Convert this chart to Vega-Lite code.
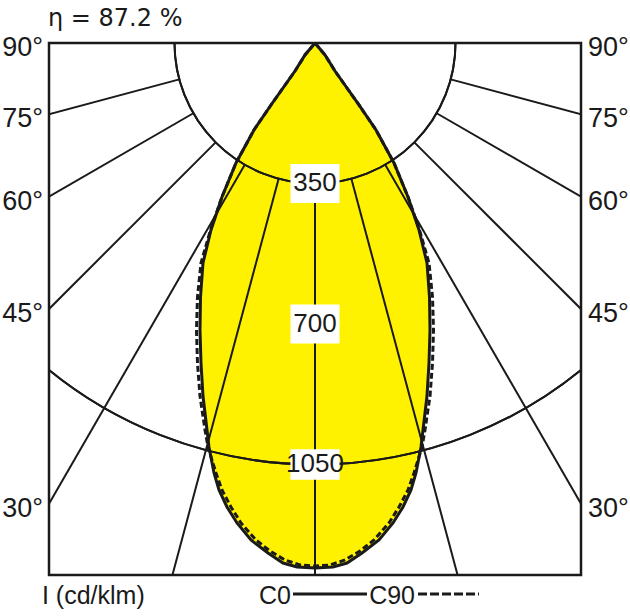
{
  "$schema": "https://vega.github.io/schema/vega-lite/v6.json",
  "width": 532,
  "height": 532,
  "autosize": "none",
  "padding": {"left": 49, "top": 43, "right": 49, "bottom": 41},
  "background": "white",
  "config": {"view": {"stroke": "#1a1a1a", "strokeWidth": 2.5}},
  "datasets": {
    "c0": [
      {"i": 0, "x": 0, "y": 0},
      {"i": 1, "x": 24.9, "y": -29.9},
      {"i": 2, "x": 49.8, "y": -69.8},
      {"i": 3, "x": 79.7, "y": -112.1},
      {"i": 4, "x": 109.6, "y": -154.4},
      {"i": 5, "x": 152.0, "y": -216.7},
      {"i": 6, "x": 196.8, "y": -298.9},
      {"i": 7, "x": 231.7, "y": -383.6},
      {"i": 8, "x": 259.1, "y": -465.8},
      {"i": 9, "x": 279.0, "y": -548.0},
      {"i": 10, "x": 285.2, "y": -632.7},
      {"i": 11, "x": 286.5, "y": -714.9},
      {"i": 12, "x": 284.0, "y": -797.2},
      {"i": 13, "x": 279.0, "y": -879.4},
      {"i": 14, "x": 274.0, "y": -921.7},
      {"i": 15, "x": 264.1, "y": -1006.4},
      {"i": 16, "x": 251.6, "y": -1071.2},
      {"i": 17, "x": 239.1, "y": -1113.5},
      {"i": 18, "x": 219.2, "y": -1155.9},
      {"i": 19, "x": 194.3, "y": -1195.7},
      {"i": 20, "x": 159.4, "y": -1238.1},
      {"i": 21, "x": 117.1, "y": -1270.5},
      {"i": 22, "x": 79.7, "y": -1295.4},
      {"i": 23, "x": 44.8, "y": -1305.3},
      {"i": 24, "x": 0, "y": -1307.8},
      {"i": 25, "x": -44.8, "y": -1305.3},
      {"i": 26, "x": -79.7, "y": -1295.4},
      {"i": 27, "x": -117.1, "y": -1270.5},
      {"i": 28, "x": -159.4, "y": -1238.1},
      {"i": 29, "x": -194.3, "y": -1195.7},
      {"i": 30, "x": -219.2, "y": -1155.9},
      {"i": 31, "x": -239.1, "y": -1113.5},
      {"i": 32, "x": -251.6, "y": -1071.2},
      {"i": 33, "x": -264.1, "y": -1006.4},
      {"i": 34, "x": -274.0, "y": -921.7},
      {"i": 35, "x": -279.0, "y": -879.4},
      {"i": 36, "x": -284.0, "y": -797.2},
      {"i": 37, "x": -286.5, "y": -714.9},
      {"i": 38, "x": -285.2, "y": -632.7},
      {"i": 39, "x": -279.0, "y": -548.0},
      {"i": 40, "x": -259.1, "y": -465.8},
      {"i": 41, "x": -231.7, "y": -383.6},
      {"i": 42, "x": -196.8, "y": -298.9},
      {"i": 43, "x": -152.0, "y": -216.7},
      {"i": 44, "x": -109.6, "y": -154.4},
      {"i": 45, "x": -79.7, "y": -112.1},
      {"i": 46, "x": -49.8, "y": -69.8},
      {"i": 47, "x": -24.9, "y": -29.9},
      {"i": 48, "x": 0, "y": 0}
    ],
    "c90": [
      {"i": 0, "x": 0, "y": 0},
      {"i": 1, "x": 24.9, "y": -29.9},
      {"i": 2, "x": 49.8, "y": -69.8},
      {"i": 3, "x": 79.7, "y": -112.1},
      {"i": 4, "x": 109.6, "y": -154.4},
      {"i": 5, "x": 152.0, "y": -216.7},
      {"i": 6, "x": 196.8, "y": -298.9},
      {"i": 7, "x": 231.7, "y": -383.6},
      {"i": 8, "x": 260.3, "y": -465.8},
      {"i": 9, "x": 284.0, "y": -548.0},
      {"i": 10, "x": 292.7, "y": -632.7},
      {"i": 11, "x": 295.2, "y": -714.9},
      {"i": 12, "x": 292.7, "y": -797.2},
      {"i": 13, "x": 286.5, "y": -879.4},
      {"i": 14, "x": 274.0, "y": -964.1},
      {"i": 15, "x": 266.5, "y": -1006.4},
      {"i": 16, "x": 246.6, "y": -1071.2},
      {"i": 17, "x": 231.7, "y": -1113.5},
      {"i": 18, "x": 209.3, "y": -1155.9},
      {"i": 19, "x": 184.3, "y": -1195.7},
      {"i": 20, "x": 147.0, "y": -1238.1},
      {"i": 21, "x": 112.1, "y": -1265.5},
      {"i": 22, "x": 74.7, "y": -1287.9},
      {"i": 23, "x": 37.4, "y": -1300.4},
      {"i": 24, "x": 0, "y": -1302.9},
      {"i": 25, "x": -37.4, "y": -1300.4},
      {"i": 26, "x": -74.7, "y": -1287.9},
      {"i": 27, "x": -112.1, "y": -1265.5},
      {"i": 28, "x": -147.0, "y": -1238.1},
      {"i": 29, "x": -184.3, "y": -1195.7},
      {"i": 30, "x": -209.3, "y": -1155.9},
      {"i": 31, "x": -231.7, "y": -1113.5},
      {"i": 32, "x": -246.6, "y": -1071.2},
      {"i": 33, "x": -266.5, "y": -1006.4},
      {"i": 34, "x": -274.0, "y": -964.1},
      {"i": 35, "x": -286.5, "y": -879.4},
      {"i": 36, "x": -292.7, "y": -797.2},
      {"i": 37, "x": -295.2, "y": -714.9},
      {"i": 38, "x": -292.7, "y": -632.7},
      {"i": 39, "x": -284.0, "y": -548.0},
      {"i": 40, "x": -260.3, "y": -465.8},
      {"i": 41, "x": -231.7, "y": -383.6},
      {"i": 42, "x": -196.8, "y": -298.9},
      {"i": 43, "x": -152.0, "y": -216.7},
      {"i": 44, "x": -109.6, "y": -154.4},
      {"i": 45, "x": -79.7, "y": -112.1},
      {"i": 46, "x": -49.8, "y": -69.8},
      {"i": 47, "x": -24.9, "y": -29.9},
      {"i": 48, "x": 0, "y": 0}
    ],
    "rings": [{"r": 350}, {"r": 700}, {"r": 1050}, {"r": 1400}],
    "spokes": [
      {"x": 0, "y": -350, "x2": 0, "y2": -2000},
      {"x": 90.59, "y": -338.07, "x2": 517.64, "y2": -1931.85},
      {"x": -90.59, "y": -338.07, "x2": -517.64, "y2": -1931.85},
      {"x": 175, "y": -303.11, "x2": 1000, "y2": -1732.05},
      {"x": -175, "y": -303.11, "x2": -1000, "y2": -1732.05},
      {"x": 247.49, "y": -247.49, "x2": 1414.21, "y2": -1414.21},
      {"x": -247.49, "y": -247.49, "x2": -1414.21, "y2": -1414.21},
      {"x": 303.11, "y": -175, "x2": 1732.05, "y2": -1000},
      {"x": -303.11, "y": -175, "x2": -1732.05, "y2": -1000},
      {"x": 338.07, "y": -90.59, "x2": 1931.85, "y2": -517.64},
      {"x": -338.07, "y": -90.59, "x2": -1931.85, "y2": -517.64}
    ],
    "ringLabels": [
      {"lab": "350", "y": -350},
      {"lab": "700", "y": -700},
      {"lab": "1050", "y": -1050}
    ],
    "angles": [
      {"lab": "90°", "y": 0},
      {"lab": "75°", "y": -177.5},
      {"lab": "60°", "y": -382.6},
      {"lab": "45°", "y": -662.6},
      {"lab": "30°", "y": -1147.7}
    ]
  },
  "layer": [
    {
      "data": {"name": "c0"},
      "mark": {"type": "line", "fill": "#fff200", "stroke": null, "strokeWidth": 0},
      "encoding": {
        "x": {"field": "x", "type": "quantitative", "scale": {"domain": [-662.6, 662.6], "nice": false, "zero": false}, "axis": null},
        "y": {"field": "y", "type": "quantitative", "scale": {"domain": [-1325.3, 0], "nice": false, "zero": false}, "axis": null},
        "order": {"field": "i", "type": "quantitative"}
      }
    },
    {
      "data": {"name": "rings"},
      "mark": {"type": "arc", "filled": false, "stroke": "#1a1a1a", "strokeWidth": 2, "theta": 0, "theta2": 6.2832, "clip": true},
      "encoding": {
        "x": {"datum": 0, "type": "quantitative"},
        "y": {"datum": 0, "type": "quantitative"},
        "radius": {"field": "r", "type": "quantitative", "scale": {"type": "linear", "domain": [0, 1400], "range": [0, 562], "zero": true}, "legend": null}
      }
    },
    {
      "data": {"name": "spokes"},
      "mark": {"type": "rule", "stroke": "#1a1a1a", "strokeWidth": 2, "clip": true},
      "encoding": {
        "x": {"field": "x", "type": "quantitative"},
        "y": {"field": "y", "type": "quantitative"},
        "x2": {"field": "x2"},
        "y2": {"field": "y2"}
      }
    },
    {
      "data": {"name": "c90"},
      "mark": {"type": "line", "stroke": "#1a1a1a", "strokeWidth": 3, "strokeDash": [6, 3]},
      "encoding": {
        "x": {"field": "x", "type": "quantitative"},
        "y": {"field": "y", "type": "quantitative"},
        "order": {"field": "i", "type": "quantitative"}
      }
    },
    {
      "data": {"name": "c0"},
      "mark": {"type": "line", "stroke": "#1a1a1a", "strokeWidth": 3},
      "encoding": {
        "x": {"field": "x", "type": "quantitative"},
        "y": {"field": "y", "type": "quantitative"},
        "order": {"field": "i", "type": "quantitative"}
      }
    },
    {
      "data": {"name": "ringLabels"},
      "mark": {"type": "point", "filled": true, "fill": "white", "stroke": null, "opacity": 1},
      "encoding": {
        "x": {"datum": 0, "type": "quantitative"},
        "y": {"field": "y", "type": "quantitative"},
        "shape": {"field": "lab", "type": "nominal", "scale": {"domain": ["350", "700", "1050"], "range": ["M-1,-0.8L1,-0.8L1,0.8L-1,0.8Z", "M-1,-0.8L1,-0.8L1,0.8L-1,0.8Z", "M-1,-0.62L1,-0.62L1,0.62L-1,0.62Z"]}, "legend": null},
        "size": {"field": "lab", "type": "nominal", "scale": {"domain": ["350", "700", "1050"], "range": [2401, 2401, 3969]}, "legend": null}
      }
    },
    {
      "data": {"name": "ringLabels"},
      "mark": {"type": "text", "font": "Liberation Sans", "fontSize": 26, "fill": "#1a1a1a", "align": "center", "baseline": "middle", "dy": 0},
      "encoding": {
        "x": {"datum": 0, "type": "quantitative"},
        "y": {"field": "y", "type": "quantitative"},
        "text": {"field": "lab"}
      }
    },
    {
      "data": {"name": "angles"},
      "mark": {"type": "text", "font": "Liberation Sans", "fontSize": 27, "fill": "#1a1a1a", "align": "right", "baseline": "middle", "dx": -6, "dy": 5},
      "encoding": {
        "x": {"datum": -662.6, "type": "quantitative"},
        "y": {"field": "y", "type": "quantitative"},
        "text": {"field": "lab"}
      }
    },
    {
      "data": {"name": "angles"},
      "mark": {"type": "text", "font": "Liberation Sans", "fontSize": 27, "fill": "#1a1a1a", "align": "left", "baseline": "middle", "dx": 7, "dy": 5},
      "encoding": {
        "x": {"datum": 662.6, "type": "quantitative"},
        "y": {"field": "y", "type": "quantitative"},
        "text": {"field": "lab"}
      }
    },
    {
      "data": {"values": [{}]},
      "mark": {"type": "text", "text": "I (cd/klm)", "font": "Liberation Sans", "fontSize": 25, "fill": "#1a1a1a", "align": "left", "baseline": "middle"},
      "encoding": {
        "x": {"datum": -680.1, "type": "quantitative"},
        "y": {"datum": -1377.6, "type": "quantitative"}
      }
    },
    {
      "data": {"values": [{}]},
      "mark": {"type": "text", "text": "C0", "font": "Liberation Sans", "fontSize": 25, "fill": "#1a1a1a", "align": "right", "baseline": "middle"},
      "encoding": {
        "x": {"datum": -59.8, "type": "quantitative"},
        "y": {"datum": -1377.6, "type": "quantitative"}
      }
    },
    {
      "data": {"values": [{}]},
      "mark": {"type": "rule", "stroke": "#1a1a1a", "strokeWidth": 3},
      "encoding": {
        "x": {"datum": -54.8, "type": "quantitative"},
        "x2": {"datum": 129.5},
        "y": {"datum": -1372.6, "type": "quantitative"}
      }
    },
    {
      "data": {"values": [{}]},
      "mark": {"type": "text", "text": "C90", "font": "Liberation Sans", "fontSize": 25, "fill": "#1a1a1a", "align": "right", "baseline": "middle"},
      "encoding": {
        "x": {"datum": 249.1, "type": "quantitative"},
        "y": {"datum": -1377.6, "type": "quantitative"}
      }
    },
    {
      "data": {"values": [{}]},
      "mark": {"type": "rule", "stroke": "#1a1a1a", "strokeWidth": 3, "strokeDash": [9, 3]},
      "encoding": {
        "x": {"datum": 256.6, "type": "quantitative"},
        "x2": {"datum": 408.5},
        "y": {"datum": -1372.6, "type": "quantitative"}
      }
    },
    {
      "data": {"values": [{}]},
      "mark": {"type": "text", "text": "η = 87.2 %", "font": "DejaVu Sans", "fontSize": 24, "fill": "#1a1a1a", "align": "left", "baseline": "alphabetic"},
      "encoding": {
        "x": {"datum": -665.1, "type": "quantitative"},
        "y": {"datum": 42.3, "type": "quantitative"}
      }
    }
  ]
}
